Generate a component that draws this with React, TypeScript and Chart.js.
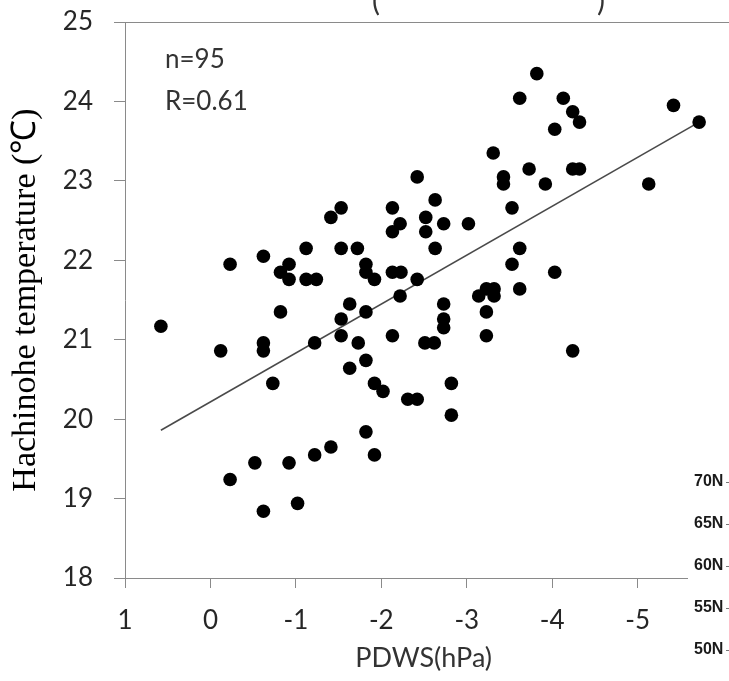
import React, { useEffect, useRef } from "react";
import { Chart, registerables } from "chart.js";

Chart.register(...registerables);

// PDWS (hPa) values of each year (x) and Hachinohe temperature (°C) (y)
const pdws = [
  0.58, -0.12, -0.23, -0.23, -0.52, -0.62, -0.62, -0.62, -0.62, -0.73,
  -0.82, -0.82, -0.92, -0.92, -0.92, -1.02, -1.12, -1.12, -1.22, -1.22,
  -1.24, -1.41, -1.41, -1.53, -1.53, -1.53, -1.53, -1.63, -1.63, -1.72,
  -1.73, -1.82, -1.82, -1.82, -1.82, -1.82, -1.92, -1.92, -1.92, -2.02,
  -2.13, -2.13, -2.13, -2.13, -2.22, -2.23, -2.22, -2.31, -2.42, -2.42,
  -2.42, -2.52, -2.52, -2.51, -2.62, -2.63, -2.63, -2.73, -2.73, -2.73,
  -2.73, -2.82, -2.82, -3.02, -3.14, -3.23, -3.23, -3.23, -3.31, -3.32,
  -3.32, -3.43, -3.43, -3.53, -3.53, -3.62, -3.62, -3.62, -3.73, -3.82,
  -3.92, -4.03, -4.03, -4.13, -4.24, -4.24, -4.24, -4.32, -4.32, -5.13,
  -5.42, -5.72,
];
const temperature = [
  21.17, 20.86, 21.95, 19.24, 19.45, 22.05, 20.96, 20.86, 18.84, 20.45,
  21.85, 21.35, 21.95, 21.76, 19.45, 18.94, 22.15, 21.76, 20.96, 19.55,
  21.76, 22.54, 19.65, 22.66, 22.15, 21.26, 21.05, 21.45, 20.64, 22.15,
  20.96, 21.95, 21.85, 21.35, 20.74, 19.84, 21.76, 20.45, 19.55, 20.35,
  22.66, 22.36, 21.85, 21.05, 22.46, 21.85, 21.55, 20.25, 23.05, 21.76,
  20.25, 22.54, 22.36, 20.96, 20.96, 22.76, 22.15, 22.46, 21.45, 21.26,
  21.15, 20.45, 20.05, 22.46, 21.55, 21.64, 21.35, 21.05, 23.35, 21.64,
  21.55, 23.05, 22.96, 22.66, 21.95, 24.04, 22.15, 21.64, 23.15, 24.35,
  22.96, 23.65, 21.85, 24.04, 23.87, 23.15, 20.86, 23.74, 23.15, 22.96,
  23.95, 23.74,
];
// regression line end points
const trendX = [0.58, -5.72];
const trendY = [19.86, 23.74];

const xAxisMax = 1;
const xAxisMin = -5.99;
const yAxisMin = 18;
const yAxisMax = 25;

const statsLines = ["n=95", "R=0.61"];
const latLabels = ["70N", "65N", "60N", "55N", "50N"];

const AXIS_GRAY = "#8a8a8a";
const TEXT_DARK = "#262626";

const overlayPlugin = {
  id: "overlay",
  afterDraw(chart: any) {
    const { ctx, chartArea } = chart;
    ctx.save();
    // top border line of plot area
    ctx.strokeStyle = AXIS_GRAY;
    ctx.lineWidth = 1;
    ctx.beginPath();
    ctx.moveTo(chartArea.left, chartArea.top + 0.5);
    ctx.lineTo(chart.width, chartArea.top + 0.5);
    ctx.stroke();

    // stats text
    ctx.fillStyle = "#333";
    ctx.font = "26px Lato";
    ctx.textAlign = "left";
    ctx.textBaseline = "alphabetic";
    statsLines.forEach((t, i) => {
      ctx.fillText(t, 165, 68 + i * 42);
    });

    // cut-off title fragments at top
    ctx.font = "30px Lato";
    ctx.fillText("(", 372, 11);
    ctx.fillText(")", 597, 11);

    // overlapping latitude labels at bottom right
    ctx.fillStyle = "#ffffff";
    ctx.fillRect(688, 462, chart.width - 688, chart.height - 462);
    ctx.fillStyle = "#1a1a1a";
    ctx.font = "bold 16px 'Liberation Sans'";
    ctx.textBaseline = "middle";
    latLabels.forEach((t, i) => {
      const y = 482 + i * 42;
      ctx.fillText(t, 694, y);
      ctx.strokeStyle = "#777";
      ctx.beginPath();
      ctx.moveTo(726, y + 0.5);
      ctx.lineTo(729, y + 0.5);
      ctx.stroke();
    });
    ctx.restore();
  },
};

export default function App() {
  const canvasRef = useRef<HTMLCanvasElement | null>(null);

  useEffect(() => {
    if (!canvasRef.current) return;
    const scatterData = pdws.map((x, i) => ({ x, y: temperature[i] }));
    const trendData = trendX.map((x, i) => ({ x, y: trendY[i] }));
    const chart = new Chart(canvasRef.current, {
      type: "scatter",
      data: {
        datasets: [
          {
            type: "scatter",
            data: scatterData,
            backgroundColor: "#000000",
            borderColor: "#000000",
            borderWidth: 0,
            pointRadius: 6.8,
            order: 1,
          } as any,
          {
            type: "line",
            data: trendData,
            borderColor: "#4a4a4a",
            borderWidth: 1.6,
            pointRadius: 0,
            fill: false,
            order: 2,
          } as any,
        ],
      },
      options: {
        responsive: false,
        animation: false,
        layout: { padding: { top: 22, right: 0, left: 0, bottom: 0 } },
        plugins: {
          legend: { display: false },
          tooltip: { enabled: false },
        },
        scales: {
          x: {
            type: "linear",
            reverse: true,
            min: xAxisMin,
            max: xAxisMax,
            ticks: {
              stepSize: 1,
              includeBounds: false,
              font: { family: "Lato", size: 26 },
              color: TEXT_DARK,
              padding: 17,
            },
            grid: {
              display: true,
              drawOnChartArea: false,
              drawTicks: true,
              tickLength: 10,
              color: AXIS_GRAY,
            },
            border: { display: true, color: AXIS_GRAY, width: 1 },
            title: {
              display: true,
              text: "PDWS(hPa)",
              font: { family: "Lato", size: 27 },
              color: "#333",
              padding: { top: 0, bottom: 7 },
            },
            afterFit: (s: any) => {
              s.height = 103;
              s.paddingLeft = 0;
              s.paddingRight = 0;
            },
          },
          y: {
            type: "linear",
            min: yAxisMin,
            max: yAxisMax,
            ticks: {
              stepSize: 1,
              font: { family: "Lato", size: 26 },
              color: TEXT_DARK,
              padding: 21,
            },
            grid: {
              display: true,
              drawOnChartArea: false,
              drawTicks: true,
              tickLength: 11,
              color: AXIS_GRAY,
            },
            border: { display: true, color: AXIS_GRAY, width: 1 },
            title: {
              display: true,
              text: "Hachinohe temperature (℃)",
              font: { family: "'Liberation Serif'", size: 34 },
              color: "#000",
              padding: { top: 6, bottom: 0 },
            },
            afterFit: (s: any) => {
              s.width = 125;
              s.paddingTop = 0;
              s.paddingBottom = 0;
            },
          },
        },
      } as any,
      plugins: [overlayPlugin],
    });
    return () => chart.destroy();
  }, []);

  return (
    <div
      style={{
        position: "absolute",
        left: 0,
        top: 0,
        width: 729,
        height: 681,
        background: "#fff",
      }}
    >
      <canvas
        ref={canvasRef}
        width={729}
        height={681}
        style={{ display: "block", width: 729, height: 681 }}
      />
    </div>
  );
}
